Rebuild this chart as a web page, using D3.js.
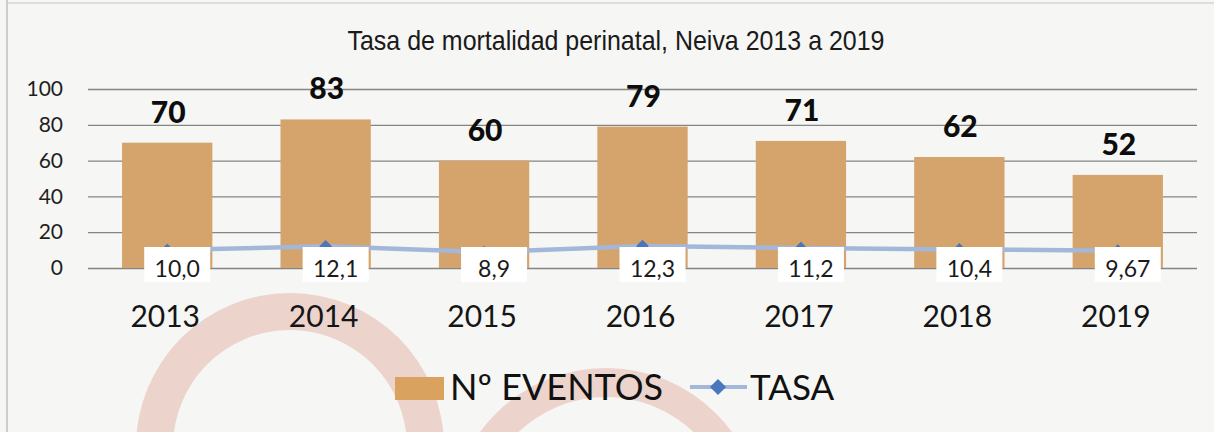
<!DOCTYPE html>
<html>
<head>
<meta charset="utf-8">
<script src="https://cdn.jsdelivr.net/npm/d3@7"></script>
<style>
  body { margin: 0; background: #f6f6f4; }
  svg { display: block; }
</style>
</head>
<body>
<div id="chart-area"></div>
<script>
// datos del grafico
var years = ['2013', '2014', '2015', '2016', '2017', '2018', '2019'];
var eventos = [70, 83, 60, 79, 71, 62, 52];
var tasa = [10.0, 12.1, 8.9, 12.3, 11.2, 10.4, 9.67];
var tasaLabels = ['10,0', '12,1', '8,9', '12,3', '11,2', '10,4', '9,67'];
var yTicks = [0, 20, 40, 60, 80, 100];

var W = 1214, H = 432;
var plotL = 88, plotR = 1197, plotT = 89, plotB = 268;

var svg = d3.select('#chart-area').append('svg')
    .attr('width', W)
    .attr('height', H);

// fondo + marco
svg.append('rect').attr('width', W).attr('height', H).attr('fill', '#f6f6f4');
svg.append('line').attr('x1', 7).attr('x2', 7).attr('y1', 0).attr('y2', H)
    .attr('stroke', '#b4b4b4').attr('stroke-width', 1.2);
svg.append('line').attr('x1', 7).attr('x2', W).attr('y1', 3).attr('y2', 3)
    .attr('stroke', '#c4c4c4').attr('stroke-width', 1);

// marca de agua (aros rosados del escaneo)
var defs = svg.append('defs');
var grad = defs.append('linearGradient').attr('id', 'wm')
    .attr('gradientUnits', 'userSpaceOnUse')
    .attr('x1', 0).attr('y1', 290).attr('x2', 0).attr('y2', 432);
grad.append('stop').attr('offset', 0).attr('stop-color', '#ecd3cc');
grad.append('stop').attr('offset', 1).attr('stop-color', '#ddada1');

var rings = [
    { cx: 290, cy: 447, r0: 117, r1: 154 },
    { cx: 606, cy: 524, r0: 127, r1: 156 }
];
rings.forEach(function(r) {
    svg.append('path')
        .attr('d', d3.arc()({ innerRadius: r.r0, outerRadius: r.r1, startAngle: 0, endAngle: 2 * Math.PI }))
        .attr('transform', 'translate(' + r.cx + ',' + r.cy + ')')
        .attr('fill', 'url(#wm)');
});

// escalas
var x = d3.scaleBand()
    .domain(years)
    .range([plotL, plotR])
    .paddingInner(0.43)
    .paddingOuter(0.215);

var y = d3.scaleLinear()
    .domain([0, 100])
    .range([plotB, plotT]);

// titulo
svg.append('text')
    .attr('x', 616)
    .attr('y', 50)
    .attr('text-anchor', 'middle')
    .attr('font-family', '"Liberation Sans Narrow", "Arial Narrow", "Liberation Sans", sans-serif')
    .attr('font-size', 28)
    .attr('fill', '#1a1a1a')
    .attr('textLength', 537)
    .attr('lengthAdjust', 'spacingAndGlyphs')
    .text('Tasa de mortalidad perinatal, Neiva 2013 a 2019');

// eje y con lineas de division
var axisY = d3.axisLeft(y)
    .tickValues(yTicks)
    .tickSize(-(plotR - plotL))
    .tickPadding(25);
var gy = svg.append('g')
    .attr('transform', 'translate(' + plotL + ',0)')
    .call(axisY);
gy.select('.domain').remove();
gy.selectAll('line').attr('stroke', '#858585').attr('stroke-width', 1.3);
gy.selectAll('text')
    .attr('font-family', 'Lato, sans-serif')
    .attr('font-size', 21)
    .attr('fill', '#1e1e1e');

// eje x (años)
var axisX = d3.axisBottom(x).tickSize(0).tickPadding(38);
var gx = svg.append('g')
    .attr('transform', 'translate(0,' + plotB + ')')
    .call(axisX);
gx.select('.domain').remove();
gx.selectAll('text')
    .attr('font-family', 'Lato, sans-serif')
    .attr('font-size', 30)
    .attr('fill', '#151515')
    .attr('dx', -2);

// barras
svg.selectAll('rect.bar')
    .data(eventos)
    .enter()
    .append('rect')
        .attr('class', 'bar')
        .attr('x', function(d, i) { return x(years[i]); })
        .attr('y', function(d) { return y(d); })
        .attr('width', x.bandwidth())
        .attr('height', function(d) { return y(0) - y(d); })
        .attr('fill', '#d5a36c');

// etiquetas de las barras
svg.selectAll('text.val')
    .data(eventos)
    .enter()
    .append('text')
        .attr('class', 'val')
        .attr('x', function(d, i) { return x(years[i]) + x.bandwidth() / 2 + 1; })
        .attr('y', function(d) { return y(d) - 20; })
        .attr('text-anchor', 'middle')
        .attr('font-family', 'Lato, sans-serif')
        .attr('font-weight', 900)
        .attr('font-size', 30)
        .attr('fill', '#0d0d0d')
        .text(function(d) { return d; });

// linea de la tasa
var line = d3.line()
    .x(function(d, i) { return x(years[i]) + x.bandwidth() / 2; })
    .y(function(d) { return y(d); });

svg.append('path')
    .datum(tasa)
    .attr('d', line)
    .attr('fill', 'none')
    .attr('stroke', '#a3b7da')
    .attr('stroke-width', 4.5);

svg.selectAll('path.mk')
    .data(tasa)
    .enter()
    .append('path')
        .attr('class', 'mk')
        .attr('d', d3.symbol().type(d3.symbolSquare).size(80))
        .attr('transform', function(d, i) {
            return 'translate(' + (x(years[i]) + x.bandwidth() / 2) + ',' + y(d) + ') rotate(45)';
        })
        .attr('fill', '#4a76bd');

// cajas blancas con el valor de la tasa
var lab = svg.selectAll('g.tl')
    .data(tasa)
    .enter()
    .append('g')
        .attr('class', 'tl')
        .attr('transform', function(d, i) {
            return 'translate(' + (x(years[i]) + x.bandwidth() / 2 + 10) + ',0)';
        });
lab.append('rect')
    .attr('x', -33)
    .attr('y', 247)
    .attr('width', 66)
    .attr('height', 35)
    .attr('fill', '#ffffff');
lab.append('text')
    .attr('y', 277)
    .attr('text-anchor', 'middle')
    .attr('font-family', 'Lato, sans-serif')
    .attr('font-size', 23)
    .attr('fill', '#1a1a1a')
    .text(function(d, i) { return tasaLabels[i]; });

// leyenda
var leg = svg.append('g');
leg.append('rect')
    .attr('x', 395).attr('y', 377)
    .attr('width', 49).attr('height', 23)
    .attr('fill', '#d9a25f');
leg.append('text')
    .attr('x', 450).attr('y', 400)
    .attr('font-family', 'Lato, sans-serif')
    .attr('font-size', 36)
    .attr('fill', '#111')
    .text('Nº EVENTOS');
leg.append('line')
    .attr('x1', 690).attr('x2', 747).attr('y1', 387).attr('y2', 387)
    .attr('stroke', '#a3b7da').attr('stroke-width', 4);
leg.append('path')
    .attr('d', d3.symbol().type(d3.symbolSquare).size(130))
    .attr('transform', 'translate(718,387) rotate(45)')
    .attr('fill', '#4a76bd');
leg.append('text')
    .attr('x', 750).attr('y', 400)
    .attr('font-family', 'Lato, sans-serif')
    .attr('font-size', 35)
    .attr('fill', '#111')
    .text('TASA');
</script>
</body>
</html>
